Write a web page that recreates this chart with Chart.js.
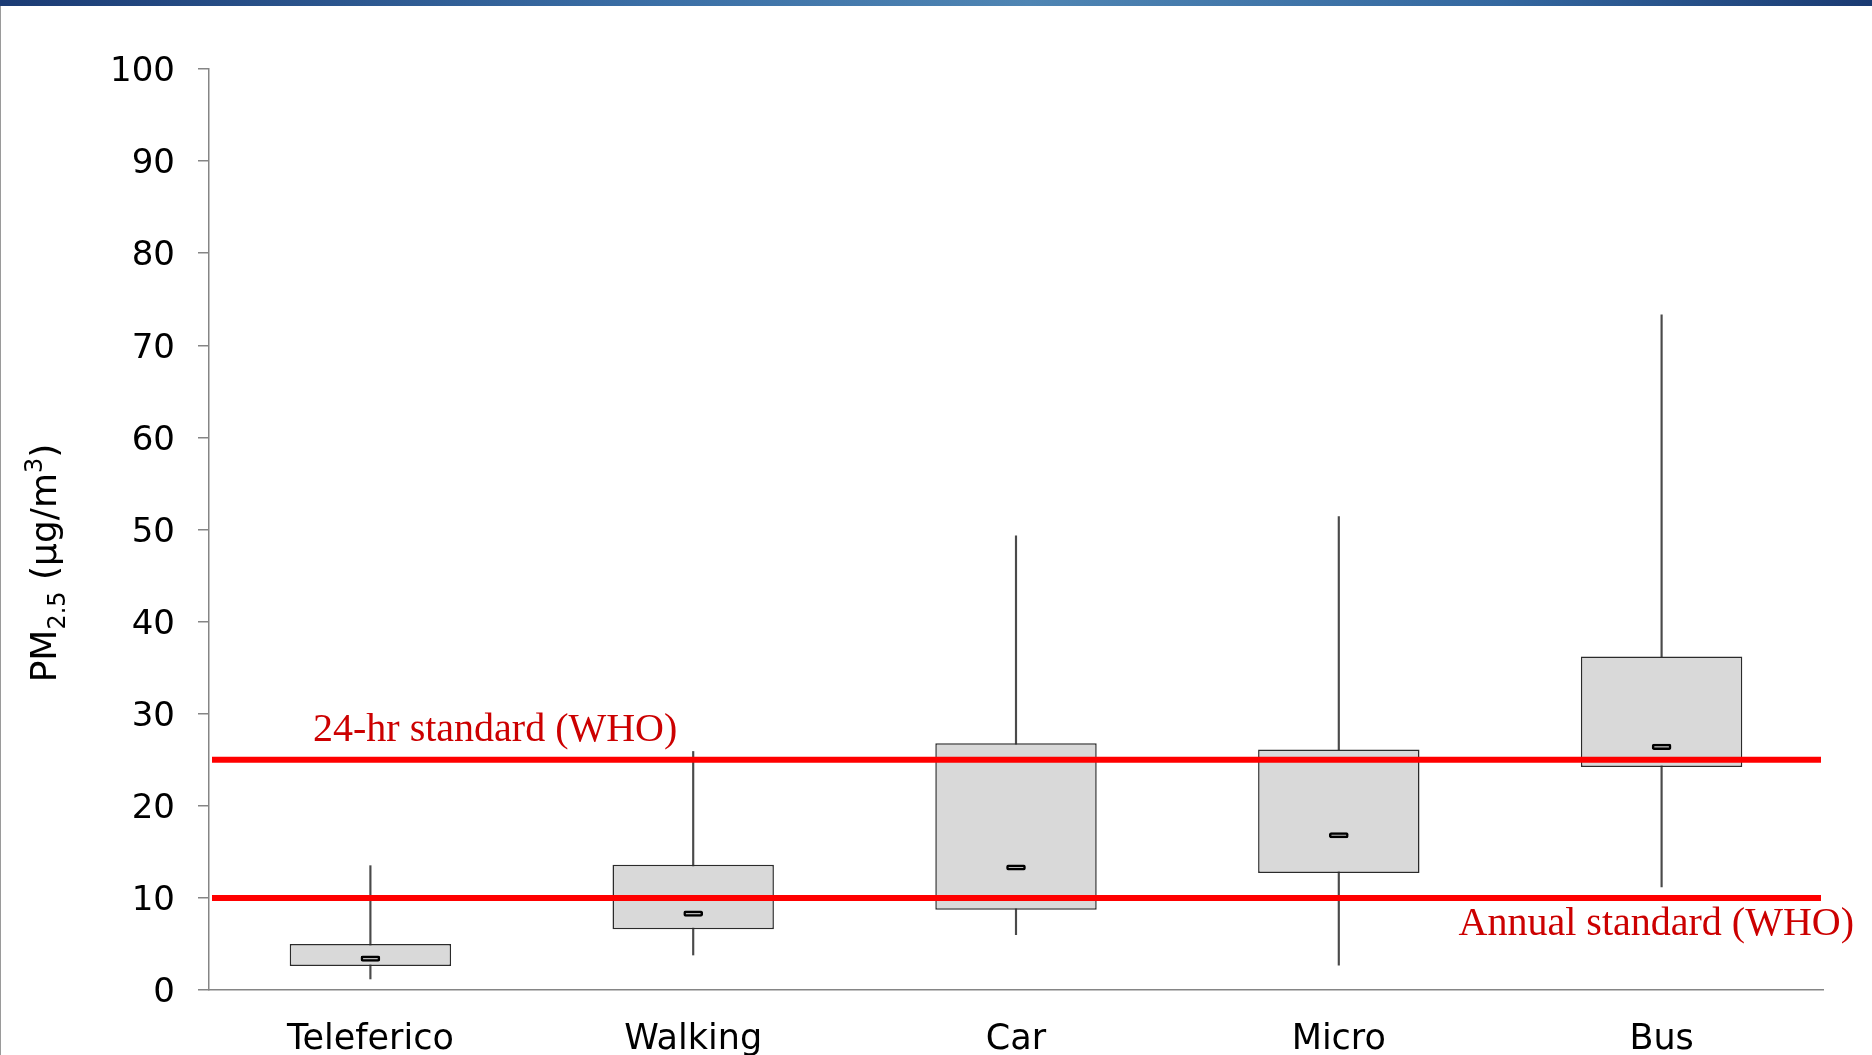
<!DOCTYPE html>
<html>
<head>
<meta charset="utf-8">
<title>PM2.5 by transport mode</title>
<script src="https://cdn.jsdelivr.net/npm/chart.js@4.4.1/dist/chart.umd.min.js"></script>
<style>
  html, body { margin: 0; padding: 0; background: #fff; }
  .page { position: relative; width: 1872px; height: 1055px; overflow: hidden; }
  .band { position: absolute; left: 0; top: 0; width: 1872px; height: 6px;
    background: linear-gradient(90deg, #1b3b74 0%, #3b6fa6 35%, #4f85b3 55%, #3468a0 80%, #1a3a72 100%); }
  .edge { position: absolute; left: 0; top: 6px; width: 1px; height: 1049px; background: #9a9a9a; }
  canvas { position: absolute; left: 0; top: 0; }
</style>
</head>
<body>
<div class="page">
  <canvas id="boxChart" width="1872" height="1055"></canvas>
  <div class="band"></div>
  <div class="edge"></div>
</div>
<script>
const categories = ["Teleferico", "Walking", "Car", "Micro", "Bus"];
const whiskerLow = [1.2, 3.8, 6.0, 2.7, 11.2];
const boxLow = [2.6, 6.6, 8.7, 12.7, 24.2];
const medians = [3.4, 8.3, 13.3, 16.8, 26.4];
const boxHigh = [5.0, 13.6, 26.8, 26.1, 36.2];
const whiskerHigh = [13.5, 25.9, 49.3, 51.4, 73.3];

const yMin = 0;
const yMax = 100;
const yStep = 10;

const standardValues = [25, 10];
const standardLabels = ["24-hr standard (WHO)", "Annual standard (WHO)"];

const FONT = "'DejaVu Sans', Verdana, sans-serif";
const SERIF = "'Liberation Serif', 'Times New Roman', serif";

// red WHO lines + their captions, drawn over the boxes
const standardsPlugin = {
  id: "standards",
  afterDatasetsDraw(chart) {
    const { ctx, chartArea, scales } = chart;
    ctx.save();
    ctx.strokeStyle = "#ff0000";
    ctx.lineWidth = 6;
    standardValues.forEach((v) => {
      const y = scales.y.getPixelForValue(v);
      ctx.beginPath();
      ctx.moveTo(chartArea.left + 3, y);
      ctx.lineTo(chartArea.right - 2, y);
      ctx.stroke();
    });

    ctx.fillStyle = "#cc0000";
    ctx.font = "40px " + SERIF;
    ctx.textBaseline = "alphabetic";
    ctx.textAlign = "left";
    ctx.fillText(standardLabels[0], chartArea.left + 104, scales.y.getPixelForValue(standardValues[0]) - 19);
    ctx.textAlign = "right";
    ctx.fillText(standardLabels[1], chartArea.right + 31, scales.y.getPixelForValue(standardValues[1]) + 37);
    ctx.restore();
  },
};

// y title with sub/superscript: PM2.5 (µg/m3)
const yTitlePlugin = {
  id: "yTitle",
  afterDraw(chart) {
    const { ctx } = chart;
    const big = "36px " + FONT;
    const small = "24px " + FONT;
    const parts = [
      { t: "PM", f: big, dy: 0 },
      { t: "2.5", f: small, dy: 9 },
      { t: " (µg/m", f: big, dy: 0 },
      { t: "3", f: small, dy: -14 },
      { t: ")", f: big, dy: 0 },
    ];
    ctx.save();
    let total = 0;
    parts.forEach((p) => { ctx.font = p.f; p.w = ctx.measureText(p.t).width; total += p.w; });
    ctx.translate(56, 563);
    ctx.rotate(-Math.PI / 2);
    ctx.fillStyle = "#000";
    ctx.textBaseline = "alphabetic";
    ctx.textAlign = "left";
    let x = -total / 2;
    parts.forEach((p) => {
      ctx.font = p.f;
      ctx.fillText(p.t, x, p.dy);
      x += p.w;
    });
    ctx.restore();
  },
};

const ctx = document.getElementById("boxChart").getContext("2d");

new Chart(ctx, {
  type: "bar",
  data: {
    labels: categories,
    datasets: [
      {
        label: "range",
        data: categories.map((c, i) => [whiskerLow[i], whiskerHigh[i]]),
        backgroundColor: "#4a4a4a",
        barThickness: 1.5,
        order: 3,
      },
      {
        label: "interquartile",
        data: categories.map((c, i) => [boxLow[i], boxHigh[i]]),
        backgroundColor: "#d9d9d9",
        borderColor: "#2b2b2b",
        borderWidth: 1.5,
        borderSkipped: false,
        barPercentage: 0.5,
        categoryPercentage: 1,
        order: 2,
      },
      {
        label: "median",
        data: categories.map((c, i) => [medians[i] - 0.3, medians[i] + 0.3]),
        backgroundColor: "#b8b8b8",
        borderColor: "#000",
        borderWidth: 2.5,
        borderSkipped: false,
        borderRadius: 2,
        barThickness: 19,
        order: 1,
      },
    ],
  },
  options: {
    responsive: false,
    animation: false,
    datasets: { bar: { grouped: false } },
    layout: { padding: { left: 0, top: 69, right: 49, bottom: 0 } },
    plugins: {
      legend: { display: false },
      tooltip: { enabled: false },
    },
    scales: {
      x: {
        grid: { drawOnChartArea: false, drawTicks: false },
        border: { color: "#858585", width: 1.5 },
        ticks: { color: "#000", font: { family: FONT, size: 35 }, padding: 29, maxRotation: 0 },
        afterFit: (s) => { s.height = 65; },
      },
      y: {
        min: yMin,
        max: yMax,
        grid: { drawOnChartArea: false, drawTicks: true, tickLength: 11, color: "#858585", lineWidth: 1.5 },
        border: { color: "#858585", width: 1.5 },
        ticks: {
          stepSize: yStep,
          color: "#000",
          // empty first line nudges the number a few px down, onto the tick
          font: { family: FONT, size: 34, lineHeight: 0.2 },
          padding: 23,
          callback: (v) => ["", String(v)],
        },
        afterFit: (s) => { s.width = 209; },
      },
    },
  },
  plugins: [standardsPlugin, yTitlePlugin],
});
</script>
</body>
</html>
